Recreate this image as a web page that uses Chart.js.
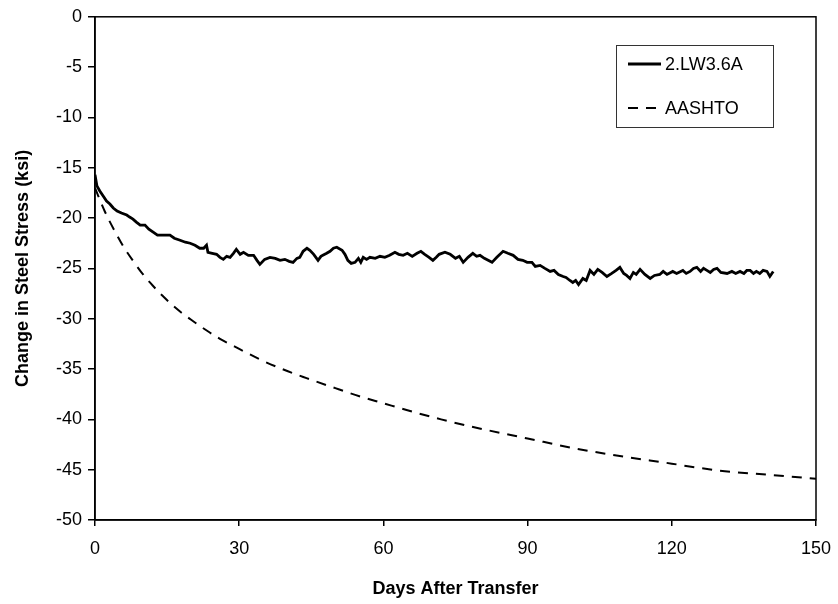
<!DOCTYPE html>
<html>
<head>
<meta charset="utf-8">
<script src="https://cdn.jsdelivr.net/npm/chart.js@4.4.1/dist/chart.umd.min.js"></script>
<style>
  html, body { margin: 0; padding: 0; background: #fff; }
  #wrap { width: 838px; height: 604px; }
</style>
</head>
<body>
<div id="wrap"><canvas id="chart"></canvas></div>
<script>
const measuredDays = [0, 0.4, 1.0, 1.7, 2.4, 3.1, 3.8, 4.6, 5.5, 6.6, 7.2, 7.9, 8.6, 9.4, 10.4, 11.2, 12.1, 13.0, 14.2, 15.6,
  16.5, 17.7, 18.8, 19.8, 20.8, 21.8, 22.6, 23.2, 23.5, 24.4, 25.3, 26.0, 26.7, 27.4, 28.1, 28.8, 29.4, 30.2, 30.9, 31.9,
  33.0, 33.7, 34.3, 35.3, 36.4, 37.5, 38.5, 39.5, 40.4, 41.2, 42.0, 42.6, 43.3, 44.1, 44.7, 45.5, 46.4, 47.0, 47.4, 48.2,
  48.9, 49.6, 50.3, 51.4, 52.0, 52.6, 53.3, 54.1, 54.8, 55.3, 55.8, 56.5, 57.2, 58.3, 59.3, 60.3, 61.3, 62.4, 63.2, 64.1,
  65.0, 66.0, 67.0, 67.8, 68.6, 69.5, 70.3, 71.0, 71.6, 72.8, 73.9, 75.0, 75.8, 76.6, 77.6, 78.6, 79.4, 80.1, 81.0, 82.6,
  83.6, 84.9, 85.9, 87.0, 88.0, 89.0, 89.9, 90.9, 91.6, 92.6, 93.6, 94.7, 95.5, 96.4, 97.4, 98.0, 98.8, 99.4, 100.0, 100.6,
  101.5, 102.2, 103.0, 103.8, 104.6, 105.5, 106.5, 107.5, 108.4, 109.2, 110.0, 110.6, 111.3, 112.0, 112.6, 113.4, 114.4, 115.5, 116.4, 117.5,
  118.2, 119.0, 120.2, 121.0, 122.3, 123.0, 123.8, 124.5, 125.2, 126.0, 126.6, 127.3, 128.0, 128.7, 129.4, 130.2, 131.5, 132.5, 133.3, 134.2,
  135.0, 135.6, 136.3, 137.0, 137.6, 138.3, 139.0, 139.8, 140.4, 141.1];
const measuredStress = [-15.7, -16.8, -17.3, -17.8, -18.3, -18.6, -19.0, -19.3, -19.5, -19.7, -19.9, -20.1, -20.4, -20.7, -20.7, -21.1, -21.4, -21.7, -21.7, -21.7,
  -22.0, -22.2, -22.4, -22.5, -22.7, -23.0, -23.0, -22.7, -23.4, -23.5, -23.6, -23.9, -24.1, -23.8, -23.9, -23.5, -23.1, -23.6, -23.4, -23.7,
  -23.7, -24.2, -24.6, -24.1, -23.9, -24.0, -24.2, -24.1, -24.3, -24.4, -24.0, -23.9, -23.3, -23.0, -23.2, -23.6, -24.2, -23.8, -23.7, -23.5,
  -23.3, -23.0, -22.9, -23.2, -23.6, -24.2, -24.5, -24.4, -24.0, -24.4, -23.9, -24.1, -23.9, -24.0, -23.8, -23.9, -23.7, -23.4, -23.6, -23.7,
  -23.5, -23.8, -23.5, -23.3, -23.6, -23.9, -24.2, -23.9, -23.6, -23.4, -23.6, -24.0, -23.8, -24.4, -23.9, -23.5, -23.8, -23.7, -24.0, -24.4,
  -23.9, -23.3, -23.5, -23.7, -24.1, -24.2, -24.4, -24.4, -24.8, -24.7, -25.0, -25.3, -25.2, -25.6, -25.8, -25.9, -26.2, -26.4, -26.2, -26.6,
  -26.0, -26.2, -25.2, -25.6, -25.1, -25.4, -25.8, -25.5, -25.2, -24.9, -25.5, -25.7, -26.0, -25.4, -25.6, -25.1, -25.6, -26.0, -25.7, -25.6,
  -25.3, -25.6, -25.3, -25.5, -25.2, -25.5, -25.3, -25.0, -24.9, -25.3, -25.0, -25.2, -25.4, -25.1, -25.0, -25.4, -25.5, -25.3, -25.5, -25.3,
  -25.5, -25.2, -25.2, -25.5, -25.3, -25.5, -25.2, -25.3, -25.8, -25.3];

const aashtoDays = [0, 2, 4, 6, 8, 10, 12, 14, 16, 18, 20, 23, 26, 30, 35, 40, 44, 50, 55, 60,
  65, 72, 80, 90, 100, 110, 120, 124, 130, 140, 150];
const aashtoStress = [-17.0, -19.3, -21.2, -22.9, -24.3, -25.6, -26.7, -27.7, -28.6, -29.4, -30.1, -31.1, -32.0, -33.0, -34.2, -35.2, -35.9, -36.9, -37.7, -38.4,
  -39.1, -40.0, -40.9, -41.9, -42.9, -43.7, -44.4, -44.7, -45.1, -45.5, -45.9];

const seriesNames = ["2.LW3.6A", "AASHTO"];
const xTicks = [0, 30, 60, 90, 120, 150];
const yTicks = [0, -5, -10, -15, -20, -25, -30, -35, -40, -45, -50];

const FONT = "'Liberation Sans', Arial, sans-serif";

function toPoints(xs, ys) {
  return xs.map((x, i) => ({ x: x, y: ys[i] }));
}

// box round the plot area + legend inside it
const framePlugin = {
  id: "frame",
  afterDraw(chart) {
    const { ctx, chartArea: a } = chart;
    ctx.save();
    ctx.strokeStyle = "#000";
    ctx.lineWidth = 1.5;
    ctx.strokeRect(a.left, a.top, a.right - a.left, a.bottom - a.top);

    // legend
    const bx = 616, by = 45, bw = 157, bh = 82;
    ctx.lineWidth = 1;
    ctx.strokeStyle = "#333";
    ctx.strokeRect(bx + 0.5, by + 0.5, bw, bh);
    ctx.font = "18px " + FONT;
    ctx.fillStyle = "#000";
    ctx.textBaseline = "middle";
    chart.data.datasets.forEach((ds, i) => {
      const yy = by + 19 + i * 44;
      ctx.beginPath();
      ctx.strokeStyle = "#000";
      ctx.lineWidth = ds.borderWidth;
      ctx.setLineDash(ds.borderDash || []);
      ctx.moveTo(bx + 12, yy);
      ctx.lineTo(bx + 45, yy);
      ctx.stroke();
      ctx.setLineDash([]);
      ctx.fillText(ds.label, bx + 49, yy + 1);
    });
    ctx.restore();
  }
};

new Chart(document.getElementById("chart"), {
  type: "line",
  data: {
    datasets: [
      {
        label: seriesNames[0],
        data: toPoints(measuredDays, measuredStress),
        borderColor: "#000",
        borderWidth: 2.8,
        pointRadius: 0,
        tension: 0,
        fill: false,
      },
      {
        label: seriesNames[1],
        data: toPoints(aashtoDays, aashtoStress),
        borderColor: "#000",
        borderWidth: 2,
        borderDash: [10, 8],
        pointRadius: 0,
        cubicInterpolationMode: "monotone",
        fill: false,
      },
    ],
  },
  options: {
    responsive: true,
    maintainAspectRatio: false,
    animation: false,
    layout: { padding: { top: 13, right: 22, left: 0, bottom: 0 } },
    plugins: {
      legend: { display: false },
      tooltip: { enabled: false },
    },
    scales: {
      x: {
        type: "linear",
        min: 0,
        max: 150,
        afterBuildTicks: (s) => { s.ticks = xTicks.map(v => ({ value: v })); },
        afterFit: (s) => { s.height = 84; s.paddingLeft = 0; s.paddingRight = 0; },
        ticks: {
          color: "#000",
          font: { family: FONT, size: 18 },
          padding: 12,
        },
        grid: { drawOnChartArea: false, color: "#000", tickLength: 6, lineWidth: 1.5 },
        border: { color: "#000", width: 1.5 },
        title: {
          display: true,
          text: "Days After Transfer",
          color: "#000",
          font: { family: FONT, size: 18, weight: "bold" },
          padding: { top: 8 },
        },
      },
      y: {
        min: -50,
        max: 0,
        afterBuildTicks: (s) => { s.ticks = yTicks.map(v => ({ value: v })); },
        afterFit: (s) => { s.width = 95; },
        ticks: {
          color: "#000",
          font: { family: FONT, size: 18 },
          padding: 6,
        },
        grid: { drawOnChartArea: false, color: "#000", tickLength: 7, lineWidth: 1.5 },
        border: { color: "#000", width: 1.5 },
        title: {
          display: true,
          text: "Change in Steel Stress (ksi)",
          color: "#000",
          font: { family: FONT, size: 18, weight: "bold" },
          padding: { top: 12, bottom: 0 },
        },
      },
    },
  },
  plugins: [framePlugin],
});
</script>
</body>
</html>
